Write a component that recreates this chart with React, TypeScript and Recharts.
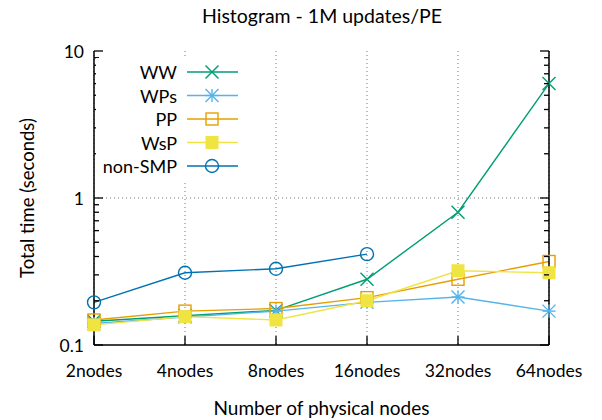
import { LineChart, Line, XAxis, YAxis, CartesianGrid, ReferenceLine } from 'recharts'

const categories = ['2nodes', '4nodes', '8nodes', '16nodes', '32nodes', '64nodes']

const ww     = [0.145, 0.158, 0.172, 0.28, 0.8, 6.0]
const wps    = [0.14, 0.155, 0.17, 0.195, 0.212, 0.17]
const pp     = [0.148, 0.17, 0.177, 0.21, 0.28, 0.37]
const wsp    = [0.137, 0.156, 0.148, 0.2, 0.32, 0.31]
const nonSmp = [0.195, 0.31, 0.33, 0.415, null, null]

const majorTicks = [0.1, 1, 10]
const minorTicks = [0.2, 0.3, 0.4, 0.5, 0.6, 0.7, 0.8, 0.9, 2, 3, 4, 5, 6, 7, 8, 9]
const yTicks = [...majorTicks, ...minorTicks].sort((a, b) => a - b)

type Shape = 'cross' | 'star' | 'square' | 'filled' | 'circle'

const SERIES: { key: string; name: string; color: string; shape: Shape }[] = [
  { key: 'ww',     name: 'WW',      color: '#009e73', shape: 'cross' },
  { key: 'wps',    name: 'WPs',     color: '#56b4e9', shape: 'star' },
  { key: 'pp',     name: 'PP',      color: '#e69f00', shape: 'square' },
  { key: 'wsp',    name: 'WsP',     color: '#f0e442', shape: 'filled' },
  { key: 'nonSmp', name: 'non-SMP', color: '#0072b2', shape: 'circle' },
]

const data = categories.map((name, i) => ({
  name,
  ww: ww[i],
  wps: wps[i],
  pp: pp[i],
  wsp: wsp[i],
  nonSmp: nonSmp[i],
}))

const FONT = 'Lato, sans-serif'
const SW = 1.4

function Marker({ cx, cy, color, shape }: { cx: number; cy: number; color: string; shape: Shape }) {
  const r = 6.5
  if (shape === 'cross') {
    return (
      <g stroke={color} strokeWidth={SW}>
        <line x1={cx - r} y1={cy - r} x2={cx + r} y2={cy + r} />
        <line x1={cx - r} y1={cy + r} x2={cx + r} y2={cy - r} />
      </g>
    )
  }
  if (shape === 'star') {
    return (
      <g stroke={color} strokeWidth={SW}>
        <line x1={cx - r} y1={cy - r} x2={cx + r} y2={cy + r} />
        <line x1={cx - r} y1={cy + r} x2={cx + r} y2={cy - r} />
        <line x1={cx - r} y1={cy} x2={cx + r} y2={cy} />
        <line x1={cx} y1={cy - r} x2={cx} y2={cy + r} />
      </g>
    )
  }
  if (shape === 'square') {
    return <rect x={cx - 6} y={cy - 6} width={12} height={12} fill="none" stroke={color} strokeWidth={SW} />
  }
  if (shape === 'filled') {
    return <rect x={cx - 6.5} y={cy - 6.5} width={13} height={13} fill={color} stroke="none" />
  }
  return <circle cx={cx} cy={cy} r={6.5} fill="none" stroke={color} strokeWidth={SW} />
}

function LeftTick(props: any) {
  const { x, y, payload } = props
  const major = majorTicks.includes(payload.value)
  return (
    <g>
      <line x1={x} x2={x + (major ? 9 : 5)} y1={y} y2={y} stroke="#000" strokeWidth={1.3} />
      {major && (
        <text x={x - 10} y={y} textAnchor="end" dominantBaseline="central" fontSize={17.5} fontFamily={FONT} fill="#000">
          {payload.value}
        </text>
      )}
    </g>
  )
}

function RightTick(props: any) {
  const { x, y, payload } = props
  const major = majorTicks.includes(payload.value)
  return <line x1={x} x2={x - (major ? 9 : 5)} y1={y} y2={y} stroke="#000" strokeWidth={1.3} />
}

function BottomTick(props: any) {
  const { x, y, payload } = props
  return (
    <g>
      <line x1={x} x2={x} y1={y} y2={y - 9} stroke="#000" strokeWidth={1.3} />
      <text x={x} y={y + 25} textAnchor="middle" dominantBaseline="central" fontSize={17.5} fontFamily={FONT} fill="#000">
        {payload.value}
      </text>
    </g>
  )
}

function TopTick(props: any) {
  const { x, y } = props
  return <line x1={x} x2={x} y1={y} y2={y + 9} stroke="#000" strokeWidth={1.3} />
}

function KeyBox() {
  return (
    <div style={{ position: 'absolute', left: 96, top: 58, width: 150, height: 122, background: '#fff' }}>
      <svg width={150} height={122}>
        {SERIES.map((s, i) => {
          const y = 14 + i * 23.5
          return (
            <g key={s.key}>
              <text x={81} y={y} textAnchor="end" dominantBaseline="central" fontSize={18} fontFamily={FONT} fill="#000">
                {s.name}
              </text>
              <line x1={91} x2={142} y1={y} y2={y} stroke={s.color} strokeWidth={SW} />
              <Marker cx={116} cy={y} color={s.color} shape={s.shape} />
            </g>
          )
        })}
      </svg>
    </div>
  )
}

export default function App() {
  return (
    <div style={{ position: 'absolute', left: 0, top: 0, width: 602, height: 420, background: '#fff', fontFamily: FONT }}>
      <div style={{ position: 'absolute', top: 4, left: 172, width: 300, textAlign: 'center', fontSize: 19.5, whiteSpace: 'nowrap', lineHeight: '24px' }}>
        Histogram - 1M updates/PE
      </div>
      <LineChart width={602} height={420} data={data} margin={{ top: 51, right: 0, bottom: 0, left: 0 }}>
        <CartesianGrid horizontal={false} stroke="#777" strokeDasharray="1 3" />
        <ReferenceLine y={1} stroke="#777" strokeDasharray="1 3" />
        <XAxis
          dataKey="name"
          height={75}
          interval={0}
          tickSize={0}
          tickMargin={0}
          tickLine={false}
          axisLine={{ stroke: '#000', strokeWidth: 1.5 }}
          tick={<BottomTick />}
          label={{ value: 'Number of physical nodes', position: 'insideBottom', offset: 5, fontSize: 19, fontFamily: FONT, fill: '#000' }}
        />
        <XAxis
          xAxisId="top"
          dataKey="name"
          orientation="top"
          height={0}
          interval={0}
          tickSize={0}
          tickMargin={0}
          tickLine={false}
          axisLine={{ stroke: '#000', strokeWidth: 1.5 }}
          tick={<TopTick />}
        />
        <YAxis
          scale="log"
          domain={[0.1, 10]}
          ticks={yTicks}
          interval={0}
          allowDataOverflow
          width={94}
          tickSize={0}
          tickMargin={0}
          tickLine={false}
          axisLine={{ stroke: '#000', strokeWidth: 1.5 }}
          tick={<LeftTick />}
          label={{ value: 'Total time (seconds)', angle: -90, position: 'insideLeft', offset: 27, fontSize: 18.5, fontFamily: FONT, fill: '#000', style: { textAnchor: 'middle' } }}
        />
        <YAxis
          yAxisId="right"
          orientation="right"
          scale="log"
          domain={[0.1, 10]}
          ticks={yTicks}
          interval={0}
          allowDataOverflow
          width={53}
          tickSize={0}
          tickMargin={0}
          tickLine={false}
          axisLine={{ stroke: '#000', strokeWidth: 1.5 }}
          tick={<RightTick />}
        />
        {SERIES.map(s => (
          <Line
            key={s.key}
            dataKey={s.key}
            name={s.name}
            stroke={s.color}
            strokeWidth={SW}
            isAnimationActive={false}
            connectNulls={false}
            activeDot={false}
            dot={(p: any) =>
              p.cx == null || p.cy == null || p.value == null ? (
                <g key={`${s.key}-${p.index}`} />
              ) : (
                <Marker key={`${s.key}-${p.index}`} cx={p.cx} cy={p.cy} color={s.color} shape={s.shape} />
              )
            }
          />
        ))}
      </LineChart>
      <KeyBox />
    </div>
  )
}
